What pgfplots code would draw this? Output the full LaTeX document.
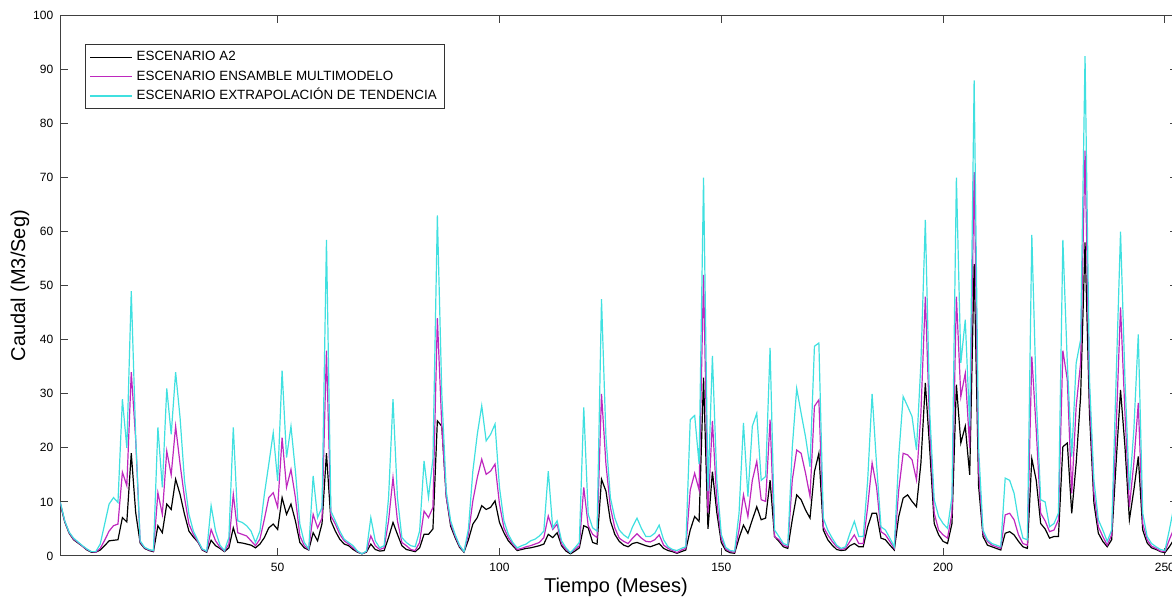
\documentclass[border=0pt]{standalone}
\usepackage{fontspec}
\setmainfont{Liberation Sans}
\usepackage{pgfplots}
\usepackage{pgfplotstable}
\pgfplotsset{compat=1.18}

\definecolor{cA}{RGB}{0,0,0}
\definecolor{cE}{RGB}{190,40,190}
\definecolor{cX}{RGB}{64,224,224}

% mes, escenario A2, ensamble multimodelo, extrapolacion de tendencia
\pgfplotstableread{
m a2 ens ext
1 9.6 9.8 10
2 6.3 6.4 6.5
3 4.2 4.3 4.4
4 3.0 3.1 3.3
5 2.4 2.5 2.6
6 1.8 1.8 1.9
7 1.1 1.2 1.3
8 0.7 0.8 0.8
9 0.7 0.7 0.8
10 1.1 1.4 2.2
11 1.9 2.9 5.9
12 2.8 4.6 9.6
13 2.9 5.6 10.8
14 3.0 5.9 9.9
15 7.1 15.5 29
16 6.3 13 20
17 19 34 49
18 8 21.5 22
19 2.4 2.6 2.8
20 1.4 1.5 1.6
21 1.0 1.1 1.2
22 0.8 0.9 1.0
23 5.6 11.7 23.8
24 4.3 7.7 12.7
25 9.6 19.4 31
26 8.6 15 22.5
27 14.2 24 34
28 11.4 17 25.6
29 7.7 10.8 13.9
30 4.6 5.9 7.7
31 3.5 4.0 4.6
32 2.6 2.7 2.9
33 1.1 1.2 1.3
34 0.7 0.8 0.9
35 2.9 4.9 9.3
36 1.9 2.8 4.6
37 1.4 1.6 2.0
38 0.8 0.9 1.0
39 1.5 2.2 3.4
40 5.2 11.4 23.8
41 2.5 4.3 6.5
42 2.4 4.0 6.2
43 2.2 3.7 5.6
44 2.0 2.8 4.6
45 1.5 1.9 2.5
46 2.2 3.1 4.6
47 3.4 6.8 11.4
48 5.2 10.8 17
49 5.9 11.7 22.8
50 4.9 9 13.9
51 10.8 21.9 34.3
52 7.7 12.7 18.2
53 9.6 16 24
54 6.5 10.8 15.7
55 2.5 3.7 5.9
56 1.5 1.9 2.5
57 1.1 1.2 1.3
58 4.3 7.7 14.8
59 2.8 5.2 7.1
60 6 7 9
61 19 38 58.5
62 6.5 7.4 8.3
63 4.6 5.9 6.5
64 3.1 4.0 4.6
65 2.2 2.8 3.1
66 1.9 2.2 2.5
67 1.2 1.5 1.9
68 0.7 0.8 0.9
69 0.4 0.4 0.4
70 0.7 0.8 0.9
71 2.2 3.7 7.1
72 1.2 1.9 2.8
73 0.9 1.2 1.5
74 1.0 1.5 1.9
75 3.4 6.5 10.8
76 6.2 14.5 29
77 4.0 6.5 10.8
78 1.9 2.5 3.4
79 1.2 1.9 2.5
80 1.0 1.2 1.9
81 0.8 1.0 1.7
82 1.5 2.5 4.6
83 4.0 8.3 17.6
84 4.0 7.1 10.8
85 5 9 18
86 25 44 63
87 24 24 30
88 11 11 12
89 5.5 6.0 6.5
90 3.4 3.7 4.0
91 1.6 1.8 2.0
92 0.7 0.8 0.8
93 3.0 4.0 5.0
94 5.9 10.2 15.7
95 7.1 14.5 22.5
96 9.3 17.9 27.8
97 8.6 15.1 21.3
98 9.0 15.7 22.5
99 10.2 17 24.4
100 6.2 9.6 12.7
101 4.3 5.2 6.5
102 2.8 3.4 4.0
103 1.9 2.2 2.5
104 1.0 1.2 1.5
105 1.2 1.4 1.9
106 1.4 1.7 2.2
107 1.5 1.9 2.8
108 1.7 2.2 3.1
109 1.9 2.5 3.7
110 2.2 3.4 4.6
111 4.0 7.4 15.7
112 3.4 4.9 5.2
113 4.3 5.9 6.5
114 1.9 2.2 2.8
115 0.9 1.2 1.5
116 0.4 0.6 0.6
117 0.9 1.2 1.5
118 1.5 1.9 2.5
119 5.6 12.7 27.5
120 5.2 5.6 7.7
121 2.5 4.0 5.2
122 2.2 3.4 4.6
123 14.2 30 47.5
124 12 17 22
125 6.5 9 10.8
126 4.0 5.2 7.0
127 2.7 3.3 4.8
128 2.0 2.7 3.9
129 1.7 2.3 3.3
130 2.3 3.3 5.4
131 2.5 4.1 7.0
132 2.2 3.3 5.1
133 1.9 2.7 3.6
134 1.7 2.6 3.6
135 2.0 3.0 4.2
136 2.3 3.9 5.7
137 1.4 2.0 3.0
138 1.0 1.4 1.7
139 0.8 1.0 1.2
140 0.5 0.6 1.0
141 0.8 1.1 1.4
142 1.1 1.4 1.7
143 4.8 12.2 25.2
144 7.3 15.3 26
145 6.4 12.2 17
146 33 52 70
147 5 8 12
148 15.6 25 37
149 8 10 14
150 2.5 3.2 4
151 1.0 1.3 1.6
152 0.6 0.8 1.0
153 0.5 0.7 0.9
154 3.3 4.8 7.9
155 5.7 11.3 24.6
156 4.2 7.3 11
157 6.7 14 24
158 9.1 17.5 26.4
159 6.7 10.4 14
160 7.0 10.1 14.7
161 14 25.2 38.5
162 3.6 3.6 4.8
163 2.7 3.0 3.6
164 1.7 2.0 2.3
165 1.4 1.7 2.0
166 6.7 14 20
167 11.3 19.6 31
168 10.4 19 26.4
169 8.5 15.3 22
170 7 11 16.5
171 15.6 27.7 38.8
172 19 28.9 39.4
173 4.8 5.4 7
174 3.0 3.9 4.8
175 2.0 2.7 3.3
176 1.2 1.7 2.0
177 1.0 1.2 1.4
178 1.1 1.4 1.7
179 1.9 2.7 4.2
180 2.3 3.9 6.4
181 1.7 2.3 3.6
182 1.7 2.3 3.6
183 5.4 9.1 14
184 7.9 17.2 30
185 7.9 12.8 17
186 3.3 4.5 5.4
187 3.0 3.9 4.8
188 2.0 2.7 3.3
189 1.1 1.4 1.7
190 7.3 12.2 18.4
191 10.7 19 29.5
192 11.3 18.7 27.7
193 10.1 17.8 25.8
194 9.1 14.1 19.6
195 17.2 26.4 35.7
196 32 48 62.2
197 19.6 23.3 26.4
198 6.0 7.9 10.4
199 3.9 4.8 7.3
200 2.7 3.9 6.0
201 2.3 3.3 5.1
202 6 7.9 11
203 31.7 48 70
204 20.9 29.5 35.7
205 24 33.8 43.7
206 15 20 24
207 54 71 88
208 13 16 20
209 3.6 4.2 4.8
210 2.0 2.7 3.0
211 1.7 2.0 2.3
212 1.4 1.7 2.0
213 1.1 1.4 1.7
214 4.2 7.6 14.4
215 4.5 7.9 14
216 3.9 6.7 11.6
217 2.7 3.9 6.7
218 1.7 2.3 3.3
219 1.4 2.0 3.0
220 18 36.9 59.4
221 14 23.3 29.5
222 6 7.9 10.4
223 5 6.5 10
224 3.3 4.5 5.4
225 3.6 4.8 6.0
226 3.6 6.7 7.9
227 20.2 38 58.5
228 20.9 32.6 35.7
229 7.9 11.6 18.4
230 17.2 27.7 35.7
231 29.5 35.7 40
232 58 75 92.5
233 26.4 29.5 32.6
234 9.8 11.6 14
235 4.2 5.4 6.7
236 2.7 3.6 4.8
237 1.7 2.0 2.7
238 3.0 3.9 4.8
239 17.2 23.3 32.6
240 30.7 46 60
241 20.2 26.4 32.6
242 6.7 9.1 12.2
243 12.2 17.2 23.3
244 18.4 28.3 41
245 4.8 6 7.9
246 2.4 3.0 3.6
247 1.5 1.8 2.3
248 1.2 1.4 1.7
249 0.8 0.9 1.2
250 0.6 0.8 1.0
251 1.7 3.0 4.8
252 3 5 9
}\caudal

\begin{document}
\begin{tikzpicture}
% the reference is cut at the right edge, so the page is too
\useasboundingbox (-30.15pt,-22.5pt) rectangle (555.9pt,278pt);
\begin{axis}[
    scale only axis,
    width=559pt, height=270.25pt,
    xmin=1, xmax=253,
    ymin=0, ymax=100,
    xtick={50,100,150,200,250},
    ytick={0,10,...,100},
    axis line style={black!75, line width=0.5pt},
    tick style={black!75, line width=0.5pt},
    major tick length=4pt,
    tick label style={font=\fontsize{6}{7}\selectfont},
    /pgf/number format/assume math mode=true,
    xlabel={Tiempo (Meses)},
    ylabel={Caudal (M3/Seg)},
    label style={font=\fontsize{10}{12}\selectfont},
    every axis x label/.style={at={(axis description cs:0.497,-0.0574)}, anchor=center},
    every axis y label/.style={at={(axis description cs:-0.036,0.5)}, rotate=90, anchor=center},
    legend style={
        at={(axis description cs:0.0221,0.9473)}, anchor=north west,
        font=\fontsize{6.7}{8}\selectfont,
        draw=black!80, line width=0.5pt,
        inner xsep=2pt, inner ysep=1.5pt,
        row sep=0pt,
        nodes={inner ysep=1.6pt, text height=5pt, text depth=1.5pt},
    },
    legend cell align={left},
    legend image code/.code={\draw[#1, line width=0.6pt] (0pt,0pt) -- (21pt,0pt);},
]

\addplot [color=cA, line width=0.6pt] table [x=m, y=a2] {\caudal};
\addlegendentry{ESCENARIO A2}

\addplot [color=cE, line width=0.6pt] table [x=m, y=ens] {\caudal};
\addlegendentry{ESCENARIO ENSAMBLE MULTIMODELO}

\addplot [color=cX, line width=0.6pt] table [x=m, y=ext] {\caudal};
\addlegendentry{ESCENARIO EXTRAPOLACIÓN DE TENDENCIA}

\end{axis}
\end{tikzpicture}
\end{document}
